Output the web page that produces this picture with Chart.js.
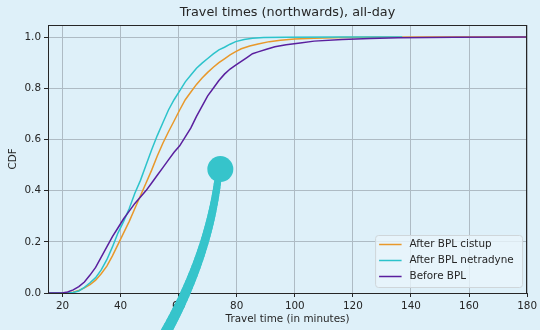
<!DOCTYPE html>
<html>
<head>
<meta charset="utf-8">
<script src="https://cdn.jsdelivr.net/npm/chart.js@4/dist/chart.umd.min.js"></script>
<style>
  html, body { margin: 0; padding: 0; background: #def0f9; }
  canvas { display: block; }
</style>
</head>
<body>
<canvas id="cdf" width="540" height="330"></canvas>
<script>
// Chart title and series labels / colours
const chartTitle = 'Travel times (northwards), all-day';
const seriesNames = ['After BPL cistup', 'After BPL netradyne', 'Before BPL'];
const seriesColors = ['#e8982a', '#2cc3cb', '#5a1f9e'];

// Travel time (minutes) / cumulative share pairs for each series
const cistupTimes = [15, 21.75, 23.68, 25.61, 27.54, 29.47, 31.4, 33.33, 35.26, 37.19, 39.12, 41.05, 42.98, 44.91, 46.84, 48.77, 50.7, 52.63, 54.56, 56.49, 58.42, 60.35, 62.28, 64.21, 66.14, 68.07, 70, 71.93, 73.86, 75.78, 77.71, 79.64, 81.57, 84.47, 87.36, 91.22, 95.08, 99.91, 106.66, 116.31, 125.96, 145.25, 180];
const cistupCdf   = [0, 0, 0.003, 0.01, 0.02, 0.033, 0.05, 0.075, 0.105, 0.145, 0.19, 0.235, 0.28, 0.33, 0.38, 0.43, 0.48, 0.535, 0.585, 0.63, 0.672, 0.715, 0.755, 0.785, 0.815, 0.84, 0.862, 0.882, 0.9, 0.915, 0.93, 0.943, 0.954, 0.965, 0.973, 0.982, 0.987, 0.992, 0.995, 0.998, 0.999, 1.0, 1.0];

const netradyneTimes = [15, 21.75, 23.68, 25.61, 27.54, 29.47, 31.4, 33.33, 35.26, 37.19, 39.12, 41.05, 42.98, 44.91, 46.84, 48.77, 50.7, 52.63, 54.56, 56.49, 58.42, 60.35, 62.28, 64.21, 66.14, 68.07, 70, 71.93, 73.86, 75.78, 77.71, 79.64, 82.54, 85.43, 89.29, 97.01, 116.31, 137];
const netradyneCdf   = [0, 0, 0.002, 0.008, 0.022, 0.04, 0.06, 0.09, 0.13, 0.18, 0.235, 0.28, 0.33, 0.39, 0.44, 0.5, 0.56, 0.615, 0.665, 0.715, 0.755, 0.79, 0.825, 0.852, 0.878, 0.898, 0.916, 0.934, 0.95, 0.96, 0.972, 0.982, 0.99, 0.995, 0.998, 0.999, 1.0, 1.0];

const beforeTimes = [15, 19.82, 21.75, 23.68, 25.61, 27.54, 29.47, 31.4, 33.33, 35.26, 37.19, 39.12, 41.05, 42.98, 44.91, 46.84, 48.77, 50.7, 52.63, 54.56, 56.49, 58.42, 60.35, 62.28, 64.21, 66.14, 68.07, 70, 71.93, 73.86, 75.78, 77.71, 79.64, 81.57, 83.5, 85.43, 87.36, 90.26, 93.15, 97.01, 101.84, 106.66, 116.31, 125.96, 135.61, 154.9, 180];
const beforeCdf   = [0, 0, 0.004, 0.012, 0.025, 0.043, 0.07, 0.1, 0.14, 0.18, 0.22, 0.255, 0.29, 0.32, 0.35, 0.375, 0.4, 0.43, 0.46, 0.49, 0.52, 0.55, 0.575, 0.61, 0.645, 0.69, 0.73, 0.77, 0.8, 0.83, 0.855, 0.875, 0.89, 0.905, 0.92, 0.935, 0.942, 0.952, 0.962, 0.97, 0.977, 0.984, 0.99, 0.994, 0.997, 0.999, 1.0];

// Axis tick values
const xTickValues = [20, 40, 60, 80, 100, 120, 140, 160, 180];
const yTickValues = [0, 0.2, 0.4, 0.6, 0.8, 1.0];

// Callout pointer: dot and curved tail, in (minutes, CDF) units
const pointerDot = [74.35, 0.484];
const pointerTail = [[73.49, 0.441], [69.97, 0.133], [54.45, -0.176]]; // start, control, end

const FONT = "'DejaVu Sans', sans-serif";
const BG = '#def0f9';
const INK = '#262626';

function pairs(xs, ys) { return xs.map((x, i) => ({ x: x, y: ys[i] })); }

const bgPlugin = {
  id: 'bg',
  beforeDraw(chart) {
    const ctx = chart.ctx;
    ctx.save();
    ctx.fillStyle = BG;
    ctx.fillRect(0, 0, chart.width, chart.height);
    ctx.restore();
  }
};

// Title centred over the plotting area
const titlePlugin = {
  id: 'areaTitle',
  afterDraw(chart) {
    const { ctx, chartArea: a } = chart;
    ctx.save();
    ctx.font = '12.8px ' + FONT;
    ctx.fillStyle = INK;
    ctx.textAlign = 'center';
    ctx.textBaseline = 'middle';
    ctx.fillText(chartTitle, (a.left + a.right) / 2, 12.5);
    ctx.restore();
  }
};

const framePlugin = {
  id: 'frame',
  afterDatasetsDraw(chart) {
    const { ctx, chartArea: a } = chart;
    ctx.save();
    ctx.strokeStyle = INK;
    ctx.lineWidth = 1;
    ctx.strokeRect(Math.round(a.left) + 0.5, Math.round(a.top) + 0.5,
                   Math.round(a.right - a.left) - 1, Math.round(a.bottom - a.top));
    ctx.restore();
  }
};

const legendPlugin = {
  id: 'boxLegend',
  afterDraw(chart) {
    const { ctx, chartArea: a } = chart;
    const sets = chart.data.datasets;
    const rowH = 16;
    const boxW = 147, boxH = 52;
    const bx = a.right - 5 - boxW + 0.5, by = a.bottom - 6 - boxH + 0.5;
    ctx.save();
    ctx.beginPath();
    ctx.roundRect(bx, by, boxW, boxH, 3);
    ctx.fillStyle = 'rgba(232,245,251,0.8)';
    ctx.fill();
    ctx.strokeStyle = '#cfd6da';
    ctx.lineWidth = 1;
    ctx.stroke();
    ctx.font = '10.4px ' + FONT;
    ctx.textBaseline = 'middle';
    sets.forEach((ds, i) => {
      const cy = by + 9 + i * rowH;
      ctx.strokeStyle = ds.borderColor;
      ctx.lineWidth = 1.5;
      ctx.beginPath();
      ctx.moveTo(bx + 3.5, cy);
      ctx.lineTo(bx + 26, cy);
      ctx.stroke();
      ctx.fillStyle = INK;
      ctx.fillText(ds.label, bx + 34, cy);
    });
    ctx.restore();
  }
};

const pointerPlugin = {
  id: 'pointer',
  afterDraw(chart) {
    const { ctx } = chart;
    const xs = chart.scales.x, ys = chart.scales.y;
    const P = pointerTail.map(p => [xs.getPixelForValue(p[0]), ys.getPixelForValue(p[1])]);
    const dot = [xs.getPixelForValue(pointerDot[0]), ys.getPixelForValue(pointerDot[1])];
    ctx.save();
    ctx.strokeStyle = '#36c4cb';
    ctx.fillStyle = '#36c4cb';
    ctx.lineCap = 'round';
    const N = 40;
    let prev = P[0];
    for (let i = 1; i <= N; i++) {
      const t = i / N, u = 1 - t;
      const pt = [u * u * P[0][0] + 2 * u * t * P[1][0] + t * t * P[2][0],
                  u * u * P[0][1] + 2 * u * t * P[1][1] + t * t * P[2][1]];
      ctx.lineWidth = 7 + 4 * t;
      ctx.beginPath();
      ctx.moveTo(prev[0], prev[1]);
      ctx.lineTo(pt[0], pt[1]);
      ctx.stroke();
      prev = pt;
    }
    ctx.beginPath();
    ctx.arc(dot[0], dot[1], 13, 0, Math.PI * 2);
    ctx.fill();
    ctx.restore();
  }
};

const lineDefaults = { borderWidth: 1.5, pointRadius: 0, tension: 0, fill: false };

new Chart(document.getElementById('cdf'), {
  type: 'line',
  data: {
    datasets: [
      Object.assign({ label: seriesNames[0], data: pairs(cistupTimes, cistupCdf), borderColor: seriesColors[0], order: 2 }, lineDefaults),
      Object.assign({ label: seriesNames[1], data: pairs(netradyneTimes, netradyneCdf), borderColor: seriesColors[1], order: 1 }, lineDefaults),
      Object.assign({ label: seriesNames[2], data: pairs(beforeTimes, beforeCdf), borderColor: seriesColors[2], order: 0 }, lineDefaults)
    ]
  },
  options: {
    responsive: false,
    devicePixelRatio: 1,
    animation: false,
    layout: { padding: { left: 0, right: 11, top: 25, bottom: 0 } },
    plugins: {
      legend: { display: false },
      tooltip: { enabled: false },
      title: { display: false }
    },
    scales: {
      x: {
        type: 'linear',
        min: 15,
        max: 180,
        afterBuildTicks(s) { s.ticks = xTickValues.map(v => ({ value: v })); },
        afterFit(s) { s.height = 37; },
        grid: { color: '#aebbc4', lineWidth: 1, tickLength: 4, tickColor: INK },
        border: { display: false },
        ticks: { color: INK, font: { family: FONT, size: 10.4 }, padding: 3, maxRotation: 0, autoSkip: false },
        title: { display: true, text: 'Travel time (in minutes)', color: INK, font: { family: FONT, size: 10.4 }, padding: { top: 0, bottom: 4 } }
      },
      y: {
        type: 'linear',
        min: 0,
        max: 1.047,
        afterBuildTicks(s) { s.ticks = yTickValues.map(v => ({ value: v })); },
        afterFit(s) { s.width = 48; },
        grid: { color: '#aebbc4', lineWidth: 1, tickLength: 4, tickColor: INK },
        border: { display: false },
        ticks: { color: INK, font: { family: FONT, size: 10.4 }, padding: 3, callback: v => Number(v).toFixed(1) },
        title: { display: true, text: 'CDF', color: INK, font: { family: FONT, size: 10.4 }, padding: { top: 7.5, bottom: 0 } }
      }
    }
  },
  plugins: [bgPlugin, framePlugin, legendPlugin, pointerPlugin, titlePlugin]
});
</script>
</body>
</html>
